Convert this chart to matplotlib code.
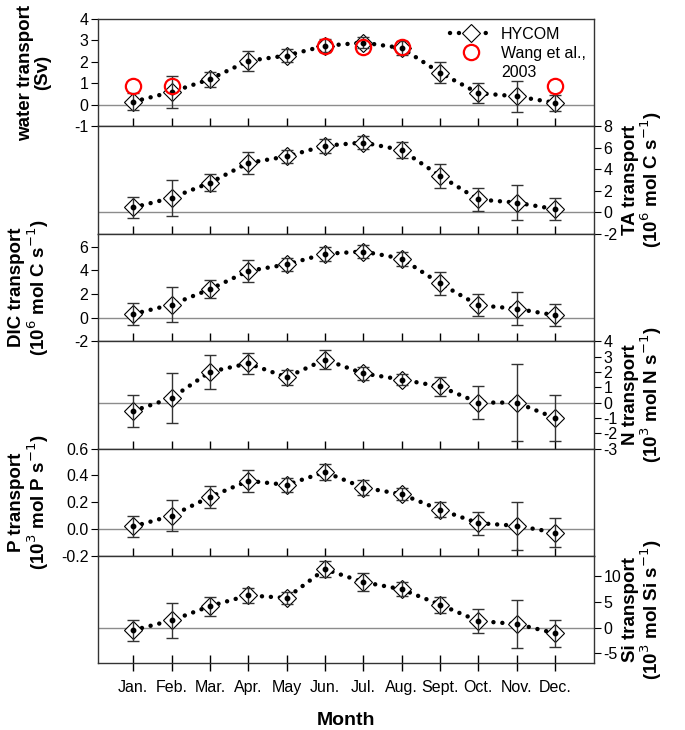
import matplotlib.pyplot as plt
from matplotlib.lines import Line2D
import numpy as np

plt.rcParams['font.family'] = ['Liberation Sans', 'DejaVu Sans']

# ===== DATA =====
months = ["Jan.", "Feb.", "Mar.", "Apr.", "May", "Jun.", "Jul.", "Aug.", "Sept.", "Oct.", "Nov.", "Dec."]
month_num = np.arange(1, 13)

water = [0.15, 0.6, 1.2, 2.05, 2.3, 2.75, 2.9, 2.65, 1.5, 0.55, 0.4, 0.1]
water_err = [0.4, 0.75, 0.35, 0.45, 0.3, 0.3, 0.25, 0.33, 0.5, 0.48, 0.73, 0.38]
wang_month = [1, 2, 6, 7, 8, 12]
wang = [0.9, 0.9, 2.75, 2.7, 2.7, 0.9]

ta = [0.45, 1.35, 2.75, 4.6, 5.2, 6.2, 6.5, 5.8, 3.4, 1.2, 0.9, 0.3]
ta_err = [1.0, 1.7, 0.8, 1.0, 0.6, 0.65, 0.6, 0.75, 1.1, 1.1, 1.6, 1.05]

dic = [0.3, 1.1, 2.4, 3.95, 4.5, 5.4, 5.6, 5.0, 2.9, 1.05, 0.75, 0.2]
dic_err = [0.9, 1.5, 0.75, 0.9, 0.55, 0.6, 0.55, 0.6, 0.95, 0.95, 1.4, 0.92]

nit = [-0.55, 0.3, 2.0, 2.55, 1.65, 2.8, 1.9, 1.5, 1.05, 0.0, 0.0, -1.0]
nit_err = [1.05, 1.6, 1.1, 0.7, 0.5, 0.6, 0.45, 0.35, 0.6, 1.05, 2.5, 1.5]

pho = [0.02, 0.1, 0.24, 0.36, 0.33, 0.425, 0.31, 0.26, 0.145, 0.045, 0.025, -0.025]
pho_err = [0.075, 0.115, 0.085, 0.08, 0.05, 0.06, 0.055, 0.045, 0.055, 0.085, 0.178, 0.105]

si = [-0.5, 1.4, 4.2, 6.3, 5.8, 11.4, 8.9, 7.5, 4.5, 1.3, 0.7, -1.1]
si_err = [2.05, 3.5, 1.85, 1.45, 1.2, 1.6, 1.7, 1.35, 1.55, 2.3, 4.6, 2.6]

panels = [
    (water, water_err, (-1, 4), [-1, 0, 1, 2, 3, 4], "left", "water transport\n(Sv)", "{:g}"),
    (ta, ta_err, (-2, 8), [-2, 0, 2, 4, 6, 8], "right", "TA transport\n(10$^6$ mol C s$^{-1}$)", "{:g}"),
    (dic, dic_err, (-2, 7.1), [-2, 0, 2, 4, 6], "left", "DIC transport\n(10$^6$ mol C s$^{-1}$)", "{:g}"),
    (nit, nit_err, (-3, 4), [-3, -2, -1, 0, 1, 2, 3, 4], "right", "N transport\n(10$^3$ mol N s$^{-1}$)", "{:g}"),
    (pho, pho_err, (-0.2, 0.6), [-0.2, 0.0, 0.2, 0.4, 0.6], "left", "P transport\n(10$^3$ mol P s$^{-1}$)", "{:.1f}"),
    (si, si_err, (-7, 14), [-5, 0, 5, 10], "right", "Si transport\n(10$^3$ mol Si s$^{-1}$)", "{:g}"),
]

# ===== PLOT =====
fig = plt.figure(figsize=(6.85, 7.3), dpi=100)
left, width = 98 / 685, 496 / 685
top_px, h_px = 19, 107.4

DOTS = (0, (0.01, 2.0))

axes = []
for i, (vals, errs, ylim, yticks, side, label, fmt) in enumerate(panels):
    bottom = 1 - (top_px + h_px * (i + 1)) / 730
    ax = fig.add_axes([left, bottom, width, h_px / 730])
    axes.append(ax)

    ax.axhline(0, color="#8c8c8c", lw=1.0, zorder=1)
    ax.plot(month_num, vals, color="black", lw=3.2, linestyle=DOTS,
            dash_capstyle="round", zorder=2)
    ax.plot(month_num, vals, linestyle="none", marker="D", ms=9, mfc="white",
            mec="black", mew=0.8, zorder=3)
    ax.errorbar(month_num, vals, yerr=errs, fmt="none", ecolor="#333333",
                elinewidth=1.0, capsize=4, capthick=1.0, zorder=4)
    ax.plot(month_num, vals, linestyle="none", marker="o", ms=3.2,
            color="black", zorder=5)

    ax.set_xlim(0.08, 13.02)
    ax.set_ylim(*ylim)
    ax.set_yticks(yticks)
    ax.set_yticklabels([fmt.format(t) for t in yticks])
    ax.set_xticks(month_num)
    ax.tick_params(axis="x", direction="inout", length=12, width=1, top=False)
    if side == "left":
        ax.tick_params(axis="y", left=True, right=False, labelleft=True,
                       labelright=False, direction="out", length=5, labelsize=11.5, pad=2)
        ax.set_ylabel(label, fontsize=13.5, fontweight="bold", linespacing=1.0)
        ax.yaxis.set_label_coords(-0.095, 0.5)
    else:
        ax.tick_params(axis="y", left=False, right=True, labelleft=False,
                       labelright=True, direction="out", length=5, labelsize=11.5, pad=2)
        ax.yaxis.set_label_position("right")
        ax.set_ylabel(label, fontsize=13.5, fontweight="bold", linespacing=1.0,
                      rotation=90)
        ax.yaxis.set_label_coords(1.056, 0.5)
    if i < len(panels) - 1:
        ax.set_xticklabels([])
    else:
        ax.set_xticklabels(months, fontsize=11.5)
        ax.tick_params(axis="x", pad=6)
        ax.set_xlabel("Month", fontsize=14, fontweight="bold", labelpad=12)
    for sp in ax.spines.values():
        sp.set_linewidth(1.0)
        sp.set_color("#333333")

# Wang et al. points
ax0 = axes[0]
ax0.plot(wang_month, wang, linestyle="none", marker="o", ms=11, mfc="none",
         mec="red", mew=1.6, zorder=6)

h1 = Line2D([0], [0], color="black", lw=3.2, linestyle=DOTS,
            dash_capstyle="round", marker="D", ms=9, mfc="white", mec="black", mew=0.8)
h2 = Line2D([0], [0], linestyle="none", marker="o", ms=11, mfc="none", mec="red", mew=1.6)
h3 = Line2D([0], [0], linestyle="none", marker="none", alpha=0)
ax0.legend([h1, h2, h3], ["HYCOM", "Wang et al.,", "2003"], loc="upper right",
           frameon=False, fontsize=11.5, handlelength=2.6, handletextpad=0.6,
           borderaxespad=0.1, labelspacing=0.25, bbox_to_anchor=(1.0, 1.0))

fig.savefig("out.png", dpi=100)
